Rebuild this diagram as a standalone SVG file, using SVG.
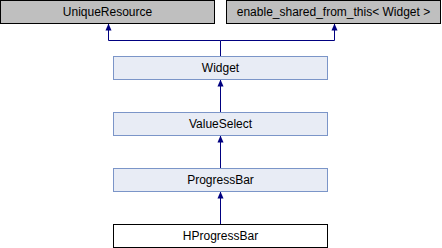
<svg xmlns="http://www.w3.org/2000/svg" width="442" height="248" viewBox="0 0 442 248">
<defs>
<style>
.gray rect{fill:#bfbfbf;stroke:#000;stroke-width:1}
.blue rect{fill:#e8ecf5;stroke:#7b95c8;stroke-width:1}
.white rect{fill:#fff;stroke:#000;stroke-width:1}
text{font-family:"Liberation Sans",Arial,sans-serif;font-size:12px;fill:#000;text-anchor:middle}
.edge{fill:none;stroke:#000080;stroke-width:1}
</style>
<marker id="arr" markerWidth="6" markerHeight="7" refX="3" refY="0" orient="auto-start-reverse" markerUnits="userSpaceOnUse" viewBox="0 0 6 7" overflow="visible">
<path d="M3,0 L6,7 L0,7 Z" fill="#000080"/>
</marker>
</defs>
<g id="connectors">
<path class="edge" d="M220.5,56.5 V40.5 H108.5 V24"/>
<path class="edge" d="M220.5,40.5 H334.5 V24"/>
<path class="edge" d="M220.5,112 V80"/>
<path class="edge" d="M220.5,168 V136"/>
<path class="edge" d="M220.5,224 V192"/>
<path d="M108.5,23.5 L111.5,30.5 L105.5,30.5 Z" fill="#000080"/>
<path d="M334.5,23.5 L337.5,30.5 L331.5,30.5 Z" fill="#000080"/>
<path d="M220.5,79.5 L223.5,86.5 L217.5,86.5 Z" fill="#000080"/>
<path d="M220.5,135.5 L223.5,142.5 L217.5,142.5 Z" fill="#000080"/>
<path d="M220.5,191.5 L223.5,198.5 L217.5,198.5 Z" fill="#000080"/>
</g>
<g id="UniqueResource" class="gray"><rect x="0.5" y="0.5" width="214" height="23"/><text x="107.5" y="16">UniqueResource</text></g>
<g id="enable_shared_from_this" class="gray"><rect x="226.5" y="0.5" width="214" height="23"/><text x="333.5" y="16">enable_shared_from_this&lt; Widget &gt;</text></g>
<g id="Widget" class="blue"><rect x="113.5" y="56.5" width="214" height="23"/><text x="220.5" y="72">Widget</text></g>
<g id="ValueSelect" class="blue"><rect x="113.5" y="112.5" width="214" height="23"/><text x="220.5" y="128">ValueSelect</text></g>
<g id="ProgressBar" class="blue"><rect x="113.5" y="168.5" width="214" height="23"/><text x="220.5" y="184">ProgressBar</text></g>
<g id="HProgressBar" class="white"><rect x="113.5" y="224.5" width="214" height="23"/><text x="220.5" y="240">HProgressBar</text></g>
</svg>
